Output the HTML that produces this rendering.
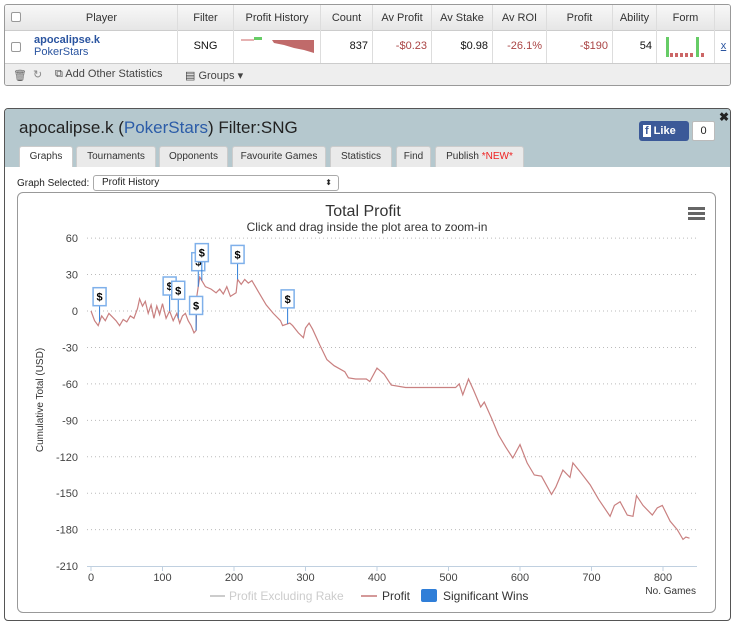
<!DOCTYPE html>
<html><head><meta charset="utf-8">
<style>
*{box-sizing:border-box}
body{margin:0;width:736px;height:625px;background:#fff;font-family:"Liberation Sans",sans-serif;position:relative;overflow:hidden;font-size:11px;color:#222}
.abs{position:absolute}
#tbl{left:4px;top:4px;width:727px;height:82px;border:1px solid #999;border-radius:3px;background:#fff;overflow:hidden}
.hdr{top:0;height:26px;background:linear-gradient(#f8f8f8,#e6e6e6);border-bottom:1px solid #ccc;width:100%}
.cell{position:absolute;border-right:1px solid #ddd;text-align:center;line-height:26px;font-size:11px;color:#333}
.row .cell{line-height:30px}
.foot{top:58px;height:24px;width:100%;background:#eee;border-top:1px solid #ccc;color:#444;font-size:11px}
.cb{width:10px;height:10px;border:1px solid #999;border-radius:2px;background:#fff;position:absolute;left:6px}
#panel{left:4px;top:108px;width:727px;height:513px;border:1px solid #555;border-radius:4px;background:#fff;overflow:hidden}
#phead{left:0;top:0;width:100%;height:58px;background:#b5c8ce}
.tab{position:absolute;top:37px;height:21px;background:#eaeaea;border:1px solid #ccc;border-bottom:none;border-radius:3px 3px 0 0;font-size:10px;text-align:center;line-height:20px;color:#333}
#chart{left:17px;top:192px;width:699px;height:421px;border:1px solid #999;border-radius:6px}
</style></head><body>
<div id="tbl" class="abs">
 <div class="abs hdr">
  <div class="cb" style="top:7px"></div>
  <div class="cell" style="left:21px;width:152px;top:0">Player</div>
  <div class="cell" style="left:173px;width:56px">Filter</div>
  <div class="cell" style="left:229px;width:87px">Profit History</div>
  <div class="cell" style="left:316px;width:52px">Count</div>
  <div class="cell" style="left:368px;width:59px">Av Profit</div>
  <div class="cell" style="left:427px;width:61px">Av Stake</div>
  <div class="cell" style="left:488px;width:54px">Av ROI</div>
  <div class="cell" style="left:542px;width:66px">Profit</div>
  <div class="cell" style="left:608px;width:44px">Ability</div>
  <div class="cell" style="left:652px;width:58px">Form</div>
 </div>
 <div class="abs row" style="top:26px;height:32px;width:100%">
  <div class="cb" style="top:11px"></div>
  <div class="cell" style="left:21px;width:152px;height:32px;text-align:left;padding-left:8px;line-height:12px;padding-top:3px"><b style="color:#2b55a0">apocalipse.k</b><br><span style="color:#2b55a0">PokerStars</span></div>
  <div class="cell" style="left:173px;width:56px;height:32px;color:#111">SNG</div>
  <div class="cell" style="left:229px;width:87px;height:32px">
   <svg width="87" height="32" style="position:absolute;left:0;top:0"><line x1="7" y1="9" x2="20" y2="9" stroke="#c66" stroke-width="1"/><rect x="20" y="6" width="8" height="3" fill="#6c6"/><polygon points="28,9 38,9 40,12 50,14 60,17 70,19 80,22 80,9 28,9" fill="#c06a6a"/></svg></div>
  <div class="cell" style="left:316px;width:52px;height:32px;text-align:right;padding-right:4px;color:#111">837</div>
  <div class="cell" style="left:368px;width:59px;height:32px;text-align:right;padding-right:4px;color:#a44">-$0.23</div>
  <div class="cell" style="left:427px;width:61px;height:32px;text-align:right;padding-right:4px;color:#111">$0.98</div>
  <div class="cell" style="left:488px;width:54px;height:32px;text-align:right;padding-right:4px;color:#a44">-26.1%</div>
  <div class="cell" style="left:542px;width:66px;height:32px;text-align:right;padding-right:4px;color:#a44">-$190</div>
  <div class="cell" style="left:608px;width:44px;height:32px;text-align:right;padding-right:4px;color:#111">54</div>
  <div class="cell" style="left:652px;width:58px;height:32px">
   <svg width="58" height="32" style="position:absolute;left:0;top:0"><rect x="9" y="6" width="3" height="20" fill="#6c6"/><rect x="13" y="22" width="3" height="4" fill="#c66"/><rect x="18" y="22" width="3" height="4" fill="#c66"/><rect x="23" y="22" width="3" height="4" fill="#c66"/><rect x="28" y="22" width="3" height="4" fill="#c66"/><rect x="33" y="22" width="3" height="4" fill="#c66"/><rect x="39" y="6" width="3" height="20" fill="#6c6"/><rect x="44" y="22" width="3" height="4" fill="#c66"/></svg></div>
  <div class="cell" style="left:710px;width:17px;height:32px;border:none;color:#2b55a0;text-decoration:underline">x</div>
 </div>
 <div class="abs foot">
  <span class="abs" style="left:8px;top:5px;color:#666">🗑</span>
  <span class="abs" style="left:28px;top:4px;color:#888">↻</span>
  <span class="abs" style="left:50px;top:4px">⧉ Add Other Statistics</span>
  <span class="abs" style="left:180px;top:5px">▤ Groups ▾</span>
 </div>
</div>

<div id="panel" class="abs">
 <div id="phead" class="abs">
  <div class="abs" style="left:14px;top:9px;font-size:17px;color:#222">apocalipse.k (<span style="color:#2b5ca8">PokerStars</span>) Filter:SNG</div>
  <div class="abs" style="left:634px;top:12px;width:50px;height:20px;background:#3b5998;border-radius:3px;color:#fff;font-weight:bold;font-size:11px;line-height:20px;padding-left:4px"><span style="background:#fff;color:#3b5998;padding:0 2px;margin-right:3px">f</span>Like</div>
  <div class="abs" style="left:687px;top:12px;width:23px;height:20px;background:#fff;border:1px solid #bbb;border-radius:2px;text-align:center;line-height:18px;font-size:11px">0</div>
  <div class="abs" style="left:714px;top:1px;font-weight:bold;font-size:12px">✖</div>
  <div class="tab" style="left:14px;width:54px;background:#fff">Graphs</div>
  <div class="tab" style="left:71px;width:80px">Tournaments</div>
  <div class="tab" style="left:154px;width:69px">Opponents</div>
  <div class="tab" style="left:227px;width:94px">Favourite Games</div>
  <div class="tab" style="left:325px;width:62px">Statistics</div>
  <div class="tab" style="left:391px;width:35px">Find</div>
  <div class="tab" style="left:430px;width:89px">Publish <span style="color:#e22">*NEW*</span></div>
 </div>
 <div class="abs" style="left:12px;top:69px;font-size:10px">Graph Selected:</div>
 <div class="abs" style="left:88px;top:66px;width:246px;height:16px;border:1px solid #aaa;border-radius:3px;font-size:10px;line-height:14px;padding-left:8px">Profit History<span style="position:absolute;right:6px;font-size:8px">⬍</span></div>
</div>
<div id="chart" class="abs"></div>

<svg class="abs" style="left:0;top:0" width="736" height="625" id="svg">
 <text x="363" y="216" text-anchor="middle" font-size="16" fill="#333">Total Profit</text>
 <text x="367" y="231" text-anchor="middle" font-size="12" fill="#333">Click and drag inside the plot area to zoom-in</text>
 <g fill="#666"><rect x="688" y="207" width="17" height="3"/><rect x="688" y="212" width="17" height="3"/><rect x="688" y="217" width="17" height="3"/></g>
 <text transform="translate(43,400) rotate(-90)" text-anchor="middle" font-size="10" fill="#333">Cumulative Total (USD)</text>
 <text x="696" y="594" text-anchor="end" font-size="10" fill="#333">No. Games</text>
 <g id="grid"></g><g id="xt"></g><g id="yt"></g><g id="ser"></g><g id="flags"></g>
 <g>
  <g><line x1="210" y1="596" x2="225" y2="596" stroke="#ccc" stroke-width="2"/><text x="229" y="600" font-size="12" fill="#ccc">Profit Excluding Rake</text></g>
  <g><line x1="361" y1="596" x2="377" y2="596" stroke="#d49999" stroke-width="2"/><text x="382" y="600" font-size="12" fill="#333">Profit</text></g>
  <g><rect x="421" y="589" width="16" height="13" rx="2" fill="#2f7ed8"/><text x="443" y="600" font-size="12" fill="#333">Significant Wins</text></g>
 </g>
</svg>
<script>
const games=[0,5,10,15,20,25,30,35,40,45,50,55,60,65,68,72,76,80,84,88,92,96,100,105,110,115,120,124,128,132,136,140,144,147,148,152,160,168,175,180,185,190,195,203,205,210,215,220,225,235,245,255,265,268,278,282,290,297,300,305,310,320,330,340,355,360,370,385,390,400,410,420,440,470,510,515,520,528,535,545,550,560,570,580,590,600,610,620,630,644,650,660,670,674,685,698,710,726,732,740,750,758,763,772,785,792,799,810,820,828,832,837];
const profit=[0,-8,-12,-4,-8,-2,-5,-8,-12,-7,-9,-4,-6,2,10,4,8,-2,5,-6,4,-3,6,-6,0,-8,-2,-10,-4,-2,-8,-12,-18,-16,12,28,20,18,15,18,14,20,12,15,26,22,26,23,25,15,5,-2,-8,-12,-10,-12,-18,-22,-14,-10,-15,-28,-40,-45,-50,-55,-56,-56,-58,-47,-52,-61,-63,-63,-63,-60,-69,-56,-65,-79,-75,-88,-102,-112,-121,-110,-125,-135,-136,-151,-145,-131,-137,-125,-133,-143,-155,-169,-160,-157,-168,-169,-152,-160,-168,-162,-160,-173,-180,-188,-186,-187];
const yTicks=[60,30,0,-30,-60,-90,-120,-150,-180,-210];
const xTicks=[0,100,200,300,400,500,600,700,800];
const flagGames=[12,110,122,147,150,155,205,275];
const flagStack=[0,0,1,0,0,1,0,0];
const X=g=>91+g*0.715, Y=v=>311-v*1.2148;
const NS='http://www.w3.org/2000/svg';
function mk(p,t,a){const e=document.createElementNS(NS,t);for(const k in a)e.setAttribute(k,a[k]);p.appendChild(e);return e;}
const grid=document.getElementById('grid'),yt=document.getElementById('yt'),xt=document.getElementById('xt');
yTicks.forEach(v=>{
 if(v!==-210){const l=mk(grid,'line',{x1:87,x2:697,y1:Y(v),y2:Y(v),stroke:'#bbb','stroke-dasharray':'1,3'});
 
 }
 const t=mk(yt,'text',{x:78,y:Y(v)+4,'text-anchor':'end','font-size':11,fill:'#444'});t.textContent=v;
 
 
});
const ax=mk(grid,'line',{x1:87,x2:697,y1:566.5,y2:566.5,stroke:'#c0d0e0'});


xTicks.forEach(v=>{
 mk(xt,'line',{x1:X(v),x2:X(v),y1:566,y2:571,stroke:'#c0d0e0'});
 const t=mk(xt,'text',{x:X(v),y:581,'text-anchor':'middle','font-size':11,fill:'#444'});t.textContent=v;
 
 
});
const pts=games.map((g,i)=>X(g).toFixed(1)+','+Y(profit[i]).toFixed(1)).join(' ');
const line=mk(document.getElementById('ser'),'polyline',{points:pts,fill:'none',stroke:'#c98080','stroke-width':1.2});


function valAt(g){for(let i=1;i<games.length;i++){if(games[i]>=g){const t=(g-games[i-1])/(games[i]-games[i-1]);return profit[i-1]+t*(profit[i]-profit[i-1]);}}return profit[profit.length-1];}
const fl=document.getElementById('flags');
flagGames.forEach((g,i)=>{
 const x=X(g),py=Y(valAt(g)),top=py-34-flagStack[i]*3;
 const grp=mk(fl,'g',{});
 
 
 mk(grp,'line',{x1:x,x2:x,y1:top+18,y2:py,stroke:'#2f7ed8'});
 mk(grp,'rect',{x:x-6.5,y:top,width:13,height:18,fill:'#fff',stroke:'#7fb0ea','stroke-width':1.5});
 const t=mk(grp,'text',{x:x,y:top+13,'text-anchor':'middle','font-size':11,'font-weight':'bold',fill:'#000'});t.textContent='$';
});
</script>
</body></html>
